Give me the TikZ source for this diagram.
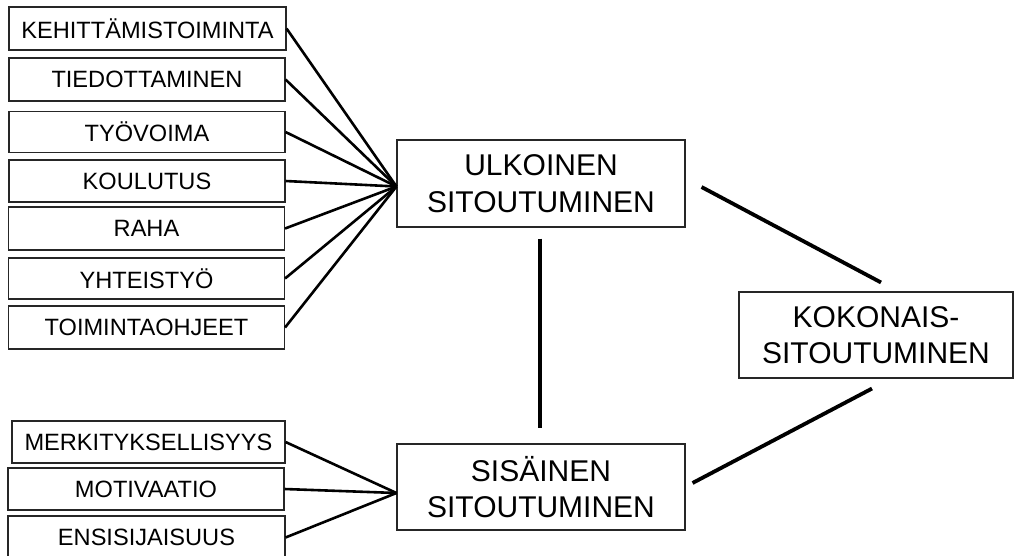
\documentclass[tikz,border=0pt]{standalone}
\usepackage{fontspec}
\setmainfont{Liberation Sans}
\begin{document}
\begin{tikzpicture}[x=1pt,y=-1pt,
  smallbox/.style={draw=black!85, line width=1.1pt, inner sep=0pt,
    minimum width=277pt, minimum height=43pt,
    font=\fontsize{23.6}{27}\selectfont},
  bigbox/.style={draw=black!85, line width=1.1pt, inner sep=0pt,
    minimum width=288pt, minimum height=87pt, align=center,
    font=\fontsize{30}{36.5}\selectfont},
  fan/.style={line width=2.6pt},
  link/.style={line width=3.8pt}]
\useasboundingbox (0,0) rectangle (1014,555);

% external factors
\node[smallbox] (k1) at (147.5,28.5) {KEHITTÄMISTOIMINTA};
\node[smallbox, minimum width=276pt] (k2) at (147,79.5) {TIEDOTTAMINEN};
\node[smallbox, minimum width=276pt, minimum height=41pt] (k3) at (147,132) {TYÖVOIMA};
\node[smallbox, minimum width=276pt, minimum height=42pt] (k4) at (147,181) {KOULUTUS};
\node[smallbox, minimum width=276pt] (k5) at (146.5,228.5) {RAHA};
\node[smallbox, minimum width=276pt, minimum height=41pt] (k6) at (146.5,278.5) {YHTEISTYÖ};
\node[smallbox, minimum width=276pt] (k7) at (146.5,327.5) {TOIMINTAOHJEET};

% internal factors
\node[smallbox, minimum width=273pt, minimum height=42pt] (s1) at (148.5,442) {MERKITYKSELLISYYS};
\node[smallbox, minimum width=276pt, minimum height=42pt] (s2) at (146,489) {MOTIVAATIO};
\node[smallbox] (s3) at (146.5,537.5) {ENSISIJAISUUS};

% commitment boxes
\node[bigbox] (ulk) at (541,183.5) {ULKOINEN\\SITOUTUMINEN};
\node[bigbox, minimum height=86pt] (sis) at (541,487) {SISÄINEN\\SITOUTUMINEN};
\node[bigbox, minimum width=274pt, minimum height=86pt] (kok) at (876,335) {KOKONAIS-\\SITOUTUMINEN};

% fan-in points
\coordinate (uf) at ([yshift=-3pt]ulk.west);
\coordinate (sf) at ([yshift=-6pt]sis.west);

\foreach \n in {k1,k2,k3,k4,k5,k6,k7}
  \draw[fan] (\n.east) -- (uf);
\foreach \n in {s1,s2,s3}
  \draw[fan] (\n.east) -- (sf);

% links between the commitment boxes
\draw[link, shorten <=11pt, shorten >=15pt]
  ([xshift=-1pt]ulk.south) -- ([xshift=-1pt]sis.north);
\draw[link] ([xshift=16pt,yshift=-3.5pt]ulk.east) -- ([xshift=5pt,yshift=9pt]kok.north);
\draw[link] ([xshift=-4pt,yshift=-10pt]kok.south) -- ([xshift=7pt,yshift=4pt]sis.east);
\end{tikzpicture}
\end{document}
